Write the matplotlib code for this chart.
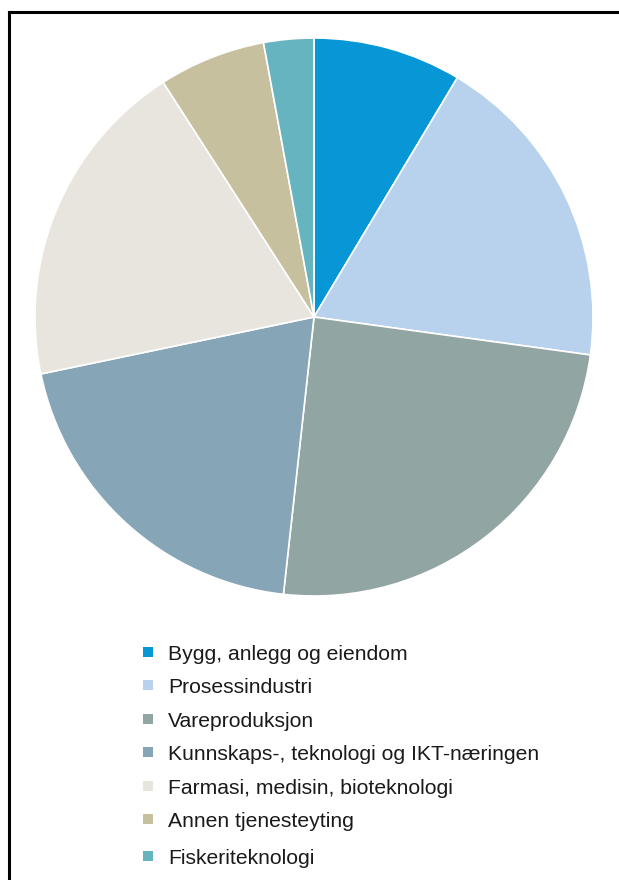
import matplotlib
matplotlib.use("Agg")
import matplotlib.pyplot as plt
from matplotlib.patches import Rectangle
from matplotlib.lines import Line2D

categories = [
    "Bygg, anlegg og eiendom",
    "Prosessindustri",
    "Vareproduksjon",
    "Kunnskaps-, teknologi og IKT-næringen",
    "Farmasi, medisin, bioteknologi",
    "Annen tjenesteyting",
    "Fiskeriteknologi",
]
shares = [8.6, 18.6, 24.6, 20.0, 19.2, 6.2, 2.9]
colors = ["#0897D6", "#B8D1EC", "#91A5A2", "#86A5B7", "#E8E5DF", "#C6C09E", "#66B4BF"]

W, H = 619, 880
fig = plt.figure(figsize=(W / 100, H / 100), dpi=100)
fig.patch.set_facecolor("white")

cx, cy, r = 314, 317, 279
ax = fig.add_axes([(cx - r) / W, (H - cy - r) / H, 2 * r / W, 2 * r / H])
ax.pie(shares, colors=colors, startangle=90, counterclock=False, radius=1,
       wedgeprops=dict(edgecolor="white", linewidth=1.2))
ax.set_xlim(-1, 1)
ax.set_ylim(-1, 1)
ax.set_aspect("equal")
ax.axis("off")

# frame lines (top and left)
fig.add_artist(Line2D([9 / W, 1.0], [1 - 12 / H, 1 - 12 / H], color="black", lw=2.2,
                      transform=fig.transFigure))
fig.add_artist(Line2D([9 / W, 9 / W], [1 - 12 / H, 0.0], color="black", lw=2.2,
                      transform=fig.transFigure))

# legend
row_y = [652, 685, 718.5, 752, 785.5, 818.5, 856]
for yc, lab, col in zip(row_y, categories, colors):
    fig.add_artist(Rectangle(((143) / W, 1 - (yc + 5) / H), 10 / W, 10 / H,
                             facecolor=col, edgecolor="none", transform=fig.transFigure))
    fig.text(168 / W, 1 - (yc + 8) / H, lab, fontsize=15.2, family="Liberation Sans",
             color="#1a1a1a", va="baseline", ha="left")

fig.savefig("out.png", dpi=100)
